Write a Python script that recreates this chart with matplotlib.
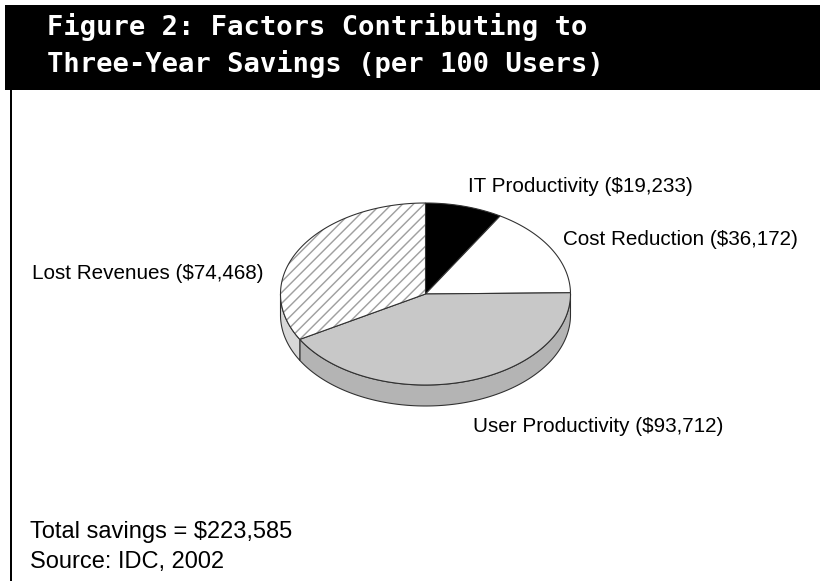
import numpy as np
import matplotlib
matplotlib.use('Agg')
import matplotlib.pyplot as plt
from matplotlib.patches import Polygon, Rectangle

# data
categories = ['IT Productivity', 'Cost Reduction', 'User Productivity', 'Lost Revenues']
savings = [19233, 36172, 93712, 74468]
title_lines = ['Figure 2: Factors Contributing to', 'Three-Year Savings (per 100 Users)']
footnotes = ['Total savings = $223,585', 'Source: IDC, 2002']

# styling
top_colors = ['#000000', '#ffffff', '#c8c8c8', '#ffffff']
side_colors = ['#000000', '#ffffff', '#b4b4b4', '#d8d8d8']
hatches = [None, None, None, '////']
label_pos = [(468, 192), (563, 245), (473, 432), (32, 279)]

DPI = 130
W, H = 820, 581
plt.rcParams['hatch.color'] = '#a0a0a0'
plt.rcParams['hatch.linewidth'] = 0.8

fig = plt.figure(figsize=(W / DPI, H / DPI), dpi=DPI)
ax = fig.add_axes([0, 0, 1, 1])
ax.set_xlim(0, W)
ax.set_ylim(H, 0)
ax.axis('off')

# header bar and left rule
ax.add_patch(Rectangle((5, 5), W - 5, 85, facecolor='black', edgecolor='none'))
ax.plot([10.5, 10.5], [90, H], color='black', lw=1.1)
for i, line in enumerate(title_lines):
    ax.text(47, 35 + 37 * i, line, color='white', fontsize=15.0,
            family='DejaVu Sans Mono', fontweight='bold', va='baseline')

# pseudo-3D pie
cx, cy, rx, ry, depth = 425.5, 294, 145, 91, 21
edge = '#303030'
lw = 0.6


def arc(t0, t1, n=120):
    t = np.radians(np.linspace(t0, t1, n))
    return cx + rx * np.cos(t), cy - ry * np.sin(t)


total = sum(savings)
starts, ends = [], []
a = 90.0
for v in savings:
    starts.append(a)
    a -= 360.0 * v / total
    ends.append(a)

# visible rim (front half: -180..0 degrees)
for i in range(len(savings)):
    lo, hi = max(ends[i], -180), min(starts[i], 0)
    if hi - lo <= 0.5:
        continue
    x, y = arc(lo, hi)
    px = np.concatenate([x, x[::-1]])
    py = np.concatenate([y, y[::-1] + depth])
    ax.add_patch(Polygon(np.column_stack([px, py]), closed=True,
                         facecolor=side_colors[i], edgecolor=edge, lw=lw))

# top face
for i in range(len(savings)):
    x, y = arc(starts[i], ends[i])
    pts = np.column_stack([np.r_[cx, x], np.r_[cy, y]])
    if hatches[i]:
        ax.add_patch(Polygon(pts, closed=True, facecolor=top_colors[i],
                             edgecolor='#a0a0a0', lw=0, hatch=hatches[i]))
        ax.add_patch(Polygon(pts, closed=True, fill=False, edgecolor=edge, lw=lw))
    else:
        ax.add_patch(Polygon(pts, closed=True, facecolor=top_colors[i],
                             edgecolor=edge, lw=lw))

# labels
for name, v, (lx, ly) in zip(categories, savings, label_pos):
    ax.text(lx, ly, f'{name} (${v:,})', fontsize=11.4, family='Liberation Sans',
            color='black', va='baseline')

for i, line in enumerate(footnotes):
    ax.text(30, 538 + 30 * i, line, fontsize=13.1, family='Liberation Sans',
            color='black', va='baseline')

fig.savefig('out.png', dpi=DPI)
